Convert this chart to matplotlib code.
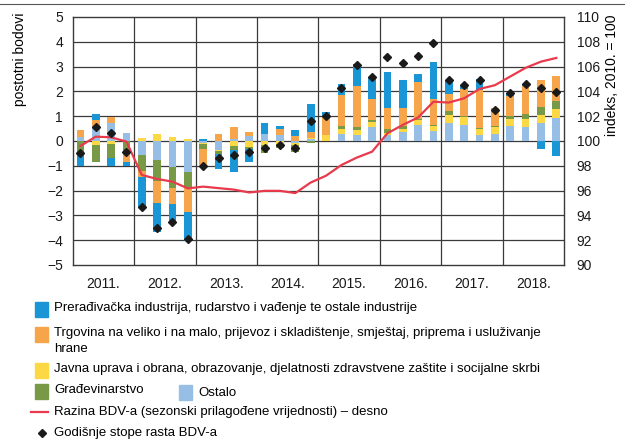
import numpy as np
import matplotlib
matplotlib.use('Agg')
import matplotlib.pyplot as plt
from matplotlib.patches import Rectangle
from matplotlib.lines import Line2D

plt.rcParams['font.family'] = ['Liberation Sans', 'DejaVu Sans']

# podaci po tromjesečjima 2011.Q1 - 2018.Q4
godine = ['2011.', '2012.', '2013.', '2014.', '2015.', '2016.', '2017.', '2018.']

ostalo = [0.17, 0.6, 0.74, 0.33,
          -0.55, -0.77, -1.03, -1.24,
          -0.08, -0.36, 0.1, 0.2,
          0.28, 0.23, -0.1, 0.1,
          0.0, 0.3, 0.24, 0.55,
          0.24, 0.35, 0.65, 0.4,
          0.74, 0.66, 0.24, 0.3,
          0.6, 0.57, 0.74, 0.91]
javna = [0.0, -0.15, -0.12, 0.0,
         0.13, 0.28, 0.17, 0.1,
         -0.05, -0.05, -0.2, -0.25,
         -0.17, -0.12, -0.08, 0.03,
         0.25, 0.17, 0.2, 0.2,
         0.08, 0.15, 0.2, 0.2,
         0.29, 0.32, 0.25, 0.25,
         0.3, 0.3, 0.31, 0.4]
gradjevinarstvo = [-0.55, -0.68, -0.55, -0.45,
                   -0.65, -0.85, -0.85, -0.67,
                   -0.2, -0.13, -0.15, -0.08,
                   -0.33, -0.18, -0.27, -0.1,
                   0.0, 0.13, 0.13, 0.1,
                   0.15, 0.12, 0.02, 0.05,
                   0.18, 0.02, 0.05, 0.05,
                   0.1, 0.2, 0.34, 0.31]
trgovina = [0.28, 0.25, 0.24, -0.38,
            -0.27, -0.87, -0.66, -0.97,
            -0.65, 0.3, 0.45, 0.17,
            0.0, 0.26, 0.2, 0.23,
            0.72, 1.25, 1.63, 0.85,
            0.88, 0.72, 1.5, 1.04,
            0.69, 1.1, 1.5, 0.72,
            0.8, 1.13, 1.07, 1.0]
preradjivacka = [-0.45, 0.25, -0.32, -0.17,
                 -1.24, -1.17, -0.78, -1.14,
                 0.08, -0.58, -0.88, -0.5,
                 0.43, 0.12, 0.24, 1.12,
                 0.18, 0.45, 0.9, 0.88,
                 1.45, 1.1, 0.33, 1.48,
                 0.56, 0.15, 0.48, 0.0,
                 0.12, 0.08, -0.33, -0.6]
stope_rasta = [-0.47, 0.55, 0.33, -0.46,
               -2.65, -3.49, -3.27, -3.96,
               -1.0, -0.7, -0.55, -0.46,
               -0.28, -0.17, -0.27, 0.81,
               1.02, 2.13, 3.08, 2.57,
               3.38, 3.14, 3.44, 3.97,
               2.45, 2.24, 2.45, 1.25,
               1.93, 2.3, 2.15, 1.99]
razina_bdv = [99.6, 100.35, 100.3, 99.95,
              97.26, 96.94, 96.72, 96.18,
              96.32, 96.2, 96.08, 95.85,
              95.98, 95.98, 95.8, 96.65,
              97.2, 98.06, 98.66, 99.14,
              100.62, 101.3, 101.9, 103.17,
              103.1, 103.45, 104.2, 104.5,
              105.2, 105.9, 106.4, 106.7]

plava = '#1a96d6'
narancasta = '#f6a54b'
zuta = '#fcd944'
zelena = '#789a46'
svplava = '#97bfe6'
crvena = '#e83a4c'

W, H = 636, 445
fig = plt.figure(figsize=(W / 100, H / 100), dpi=100)
ax = fig.add_axes([72.7 / W, 1 - 265 / H, (564 - 72.7) / W, 248 / H])

x = np.arange(len(ostalo))
serije = [(ostalo, svplava), (javna, zuta), (gradjevinarstvo, zelena),
          (trgovina, narancasta), (preradjivacka, plava)]
pos = np.zeros(len(x))
neg = np.zeros(len(x))
for vals, c in serije:
    v = np.array(vals)
    b = np.where(v >= 0, pos, neg)
    ax.bar(x, v, 0.5, bottom=b, color=c, zorder=3, linewidth=0)
    pos = pos + np.where(v >= 0, v, 0)
    neg = neg + np.where(v < 0, v, 0)

# desna os: indeks
ax2 = ax.twinx()
ax2.set_ylim(90, 110)
ax2.set_yticks(range(90, 111, 2))
ax2.tick_params(axis='y', length=0, labelsize=10, pad=9, colors='#1a1a1a')
for s in ax2.spines.values():
    s.set_visible(False)
ax.set_zorder(ax2.get_zorder() + 1)
ax.patch.set_visible(False)

# crvena linija preko lijeve osi (indeks 90-110 -> -5..5)
ax.plot(x, (np.array(razina_bdv) - 100) / 2, color=crvena, lw=1.6, zorder=5)
ax.plot(x, stope_rasta, 'D', color='#1a1a1a', markersize=4.3, zorder=6)

gc = '#3a3a3a'
ax.set_xlim(-0.5, 31.5)
ax.set_ylim(-5, 5)
ax.set_yticks(range(-5, 6))
ax.set_yticklabels([str(i).replace('-', '\u2212') for i in range(-5, 6)])
for yv in range(-4, 5):
    ax.axhline(yv, color=gc, lw=0.9, zorder=1)
for xv in np.arange(3.5, 31, 4):
    ax.axvline(xv, color=gc, lw=0.9, zorder=1)
ax.set_xticks(np.arange(1.5, 32, 4))
ax.set_xticklabels(godine)
ax.tick_params(axis='both', length=0, labelsize=10, colors='#1a1a1a')
ax.tick_params(axis='x', pad=9)
ax.tick_params(axis='y', pad=7)
for s in ax.spines.values():
    s.set_color(gc)
    s.set_linewidth(1)

# gornja linija
fig.add_artist(Line2D([0, 624 / W], [1 - 4 / H, 1 - 4 / H], color='#555555', lw=0.8))

fig.text(20 / W, 1 - 12 / H, 'postotni bodovi', rotation=90, ha='center', va='top', fontsize=10)
fig.text(612 / W, 1 - 14 / H, 'indeks, 2010. = 100', rotation=90, ha='center', va='top', fontsize=10)

# legenda
def kvadrat(x0, y0, c):
    fig.add_artist(Rectangle((x0 / W, 1 - (y0 + 15) / H), 13 / W, 15 / H,
                             color=c, transform=fig.transFigure))

def tekst(x0, y0, s):
    fig.text(x0 / W, 1 - y0 / H, s, ha='left', va='center', fontsize=9.5)

kvadrat(35, 302, plava)
tekst(54, 308, 'Prerađivačka industrija, rudarstvo i vađenje te ostale industrije')
kvadrat(35, 327, narancasta)
tekst(54, 333, 'Trgovina na veliko i na malo, prijevoz i skladištenje, smještaj, priprema i usluživanje')
tekst(54, 349, 'hrane')
kvadrat(35, 363, zuta)
tekst(54, 369, 'Javna uprava i obrana, obrazovanje, djelatnosti zdravstvene zaštite i socijalne skrbi')
kvadrat(35, 384, zelena)
tekst(54, 390, 'Građevinarstvo')
kvadrat(179, 385, svplava)
tekst(198, 393, 'Ostalo')
fig.add_artist(Line2D([31 / W, 48 / W], [1 - 412 / H, 1 - 412 / H], color=crvena, lw=1.6))
tekst(54, 412, 'Razina BDV-a (sezonski prilagođene vrijednosti) – desno')
fig.add_artist(Line2D([42 / W], [1 - 433 / H], marker='D', color='#1a1a1a', markersize=4.3))
tekst(54, 433, 'Godišnje stope rasta BDV-a')

fig.savefig('out.png', dpi=100)
